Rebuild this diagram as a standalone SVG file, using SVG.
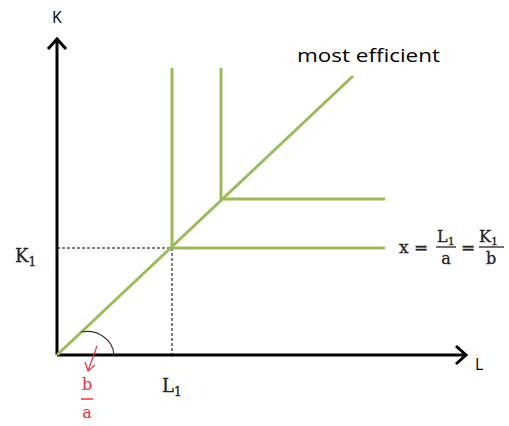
<svg xmlns="http://www.w3.org/2000/svg" width="509" height="426" viewBox="0 0 509 426">
<defs>
<style>
.g{stroke:#9BBB59;stroke-width:3;fill:none}
.d{stroke:#000;stroke-width:1;stroke-dasharray:3,2;fill:none}
.sans{font-family:"Open Sans","Liberation Sans",sans-serif;fill:#000}
.ser{font-family:"DejaVu Serif","Liberation Serif",serif;fill:#222;stroke:#222;stroke-width:0.3}
.red{font-family:"DejaVu Serif","Liberation Serif",serif;fill:#E8323C}
</style>
</defs>
<rect width="509" height="426" fill="#fff"/>
<g id="connectors">
<line class="d" x1="57" y1="248" x2="172" y2="248"/>
<line class="d" x1="172" y1="248" x2="172" y2="355"/>
<path d="M57,355 L57,40" stroke="#000" stroke-width="3" fill="none"/>
<path d="M48,49 L57,39 L66,49" stroke="#000" stroke-width="3" fill="none"/>
<path d="M57,355 L466,355" stroke="#000" stroke-width="3" fill="none"/>
<path d="M456,346 L466,355 L456,364" stroke="#000" stroke-width="3" fill="none"/>
<line class="g" x1="57" y1="355" x2="353" y2="76"/>
<path class="g" d="M172,68 L172,248 L385,248"/>
<path class="g" d="M221,68 L221,199 L385,199"/>
<path d="M81,332 A27 25 0 0 1 114,355" stroke="#333" stroke-width="1.2" fill="none"/>
<path d="M97,346 L88,371" stroke="#E8323C" stroke-width="1.2" fill="none"/>
<path d="M85,362 L88,371 L95,365" stroke="#E8323C" stroke-width="1.2" fill="none"/>
</g>
<g id="axis-labels">
<text class="sans" x="57" y="23" font-size="16" text-anchor="middle">K</text>
<text class="sans" x="475" y="370" font-size="16">L</text>
<text class="sans" x="297" y="62" font-size="19" textLength="143" lengthAdjust="spacingAndGlyphs">most efficient</text>
</g>
<g id="k1">
<text class="ser" x="15" y="262" font-size="18">K<tspan font-size="12" dy="4">1</tspan></text>
</g>
<g id="l1">
<text class="ser" x="162" y="392" font-size="18">L<tspan font-size="12" dy="4">1</tspan></text>
</g>
<g id="ratio">
<text class="red" x="87" y="390" font-size="16" text-anchor="middle">b</text>
<line x1="81" y1="399" x2="93" y2="399" stroke="#E8323C" stroke-width="1.5"/>
<text class="red" x="87" y="418" font-size="16" text-anchor="middle">a</text>
</g>
<g id="formula">
<text class="ser" x="399" y="253" font-size="17">x</text>
<text class="ser" x="414" y="253" font-size="17">=</text>
<text class="ser" x="437" y="242" font-size="16">L<tspan font-size="11" dy="3">1</tspan></text>
<line x1="436" y1="247" x2="456" y2="247" stroke="#222" stroke-width="1.3"/>
<text class="ser" x="446" y="264" font-size="16" text-anchor="middle">a</text>
<text class="ser" x="461" y="253" font-size="17">=</text>
<text class="ser" x="479" y="242" font-size="16">K<tspan font-size="11" dy="3">1</tspan></text>
<line x1="479" y1="247" x2="504" y2="247" stroke="#222" stroke-width="1.3"/>
<text class="ser" x="491" y="264" font-size="16" text-anchor="middle">b</text>
</g>
</svg>
